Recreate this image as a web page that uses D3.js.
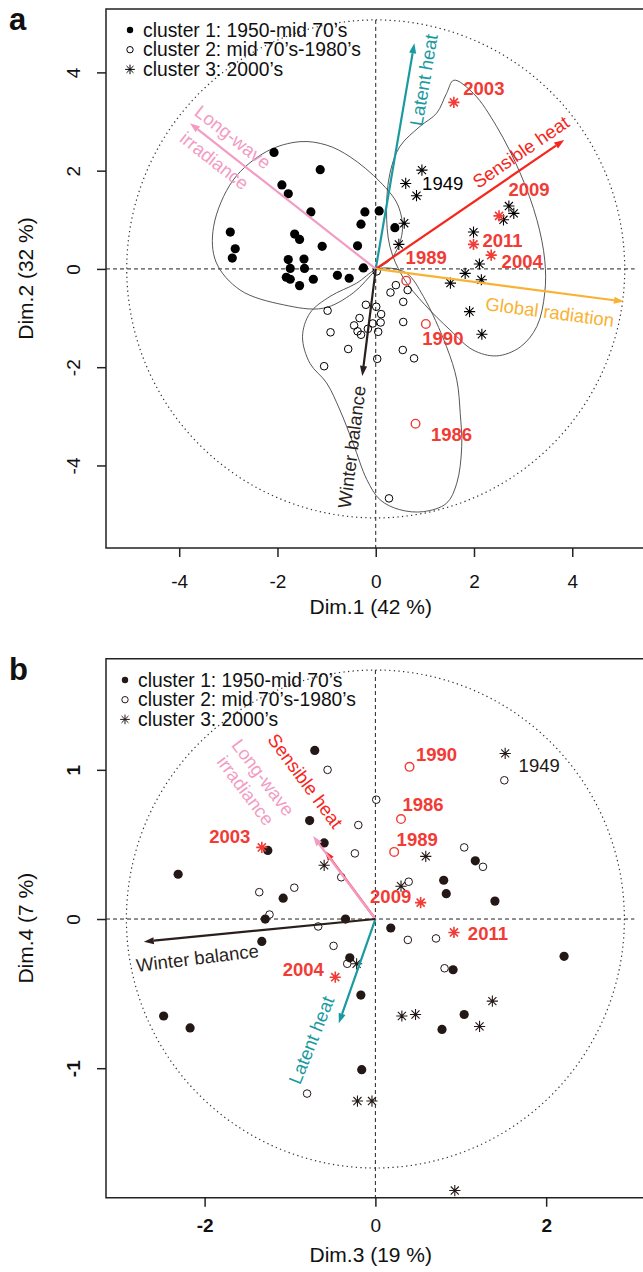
<!DOCTYPE html>
<meta charset="utf-8">
<script src="https://d3js.org/d3.v7.min.js"></script>
<style>
  body { margin: 0; background: #fff; }
  text { font-family: "Liberation Sans", Arial, sans-serif; }
</style>
<div id="chart"></div>
<script>

// ---------- shared ----------
var legendLabels = ["cluster 1: 1950-mid 70\u2019s", "cluster 2: mid 70\u2019s-1980\u2019s", "cluster 3: 2000\u2019s"];
var varNames = ["Latent heat", "Sensible heat", "Global radiation", "Long-wave irradiance", "Winter balance"];

// ---------- panel a : Dim.1 / Dim.2 ----------
var aTicksX = [-4, -2, 0, 2, 4];
var aTicksY = [-4, -2, 0, 2, 4];
var a_cluster1 = [[-2.07,2.37],[-1.13,2.02],[-1.91,1.71],[-1.78,1.53],[-1.32,1.16],[-0.22,1.16],[0.07,1.18],
  [-0.30,0.91],[0.39,0.84],[-2.96,0.75],[-2.86,0.41],[-2.92,0.22],[-1.65,0.71],[-1.55,0.60],[-1.09,0.46],
  [-0.37,0.47],[-1.78,0.19],[-1.46,0.20],[-1.74,0.01],[-1.45,0.01],[-0.25,0.02],[-1.82,-0.17],[-1.74,-0.21],
  [-1.55,-0.34],[-1.27,-0.21],[-0.78,-0.13],[-0.54,-0.19]];
var a_cluster2 = [[0.02,-0.05],[0.41,-0.33],[0.30,-0.48],[0.65,-0.43],[0.56,-0.67],[-0.20,-0.73],[0.01,-0.77],
  [0.11,-0.92],[-0.98,-0.85],[-0.33,-1.00],[-0.44,-1.15],[-0.06,-1.11],[0.10,-1.09],[0.56,-1.08],[-0.37,-1.27],
  [-0.30,-1.34],[-0.16,-1.22],[0.05,-1.28],[-0.92,-1.29],[-0.56,-1.63],[0.55,-1.65],[0.78,-1.82],[0.03,-1.83],
  [-1.05,-1.98],[0.27,-4.67]];
var a_cluster3 = [[0.94,2.01],[0.83,1.49],[0.58,0.93],[0.47,0.50],[2.71,1.28],[2.81,1.13],[2.60,1.00],
  [1.99,0.75],[2.11,0.10],[1.82,-0.09],[2.15,-0.22],[1.52,-0.29],[1.91,-0.87],[2.16,-1.33]];
var a_years = [
  {year: "2003", x: 1.59, y: 3.39, cluster: 3, red: true},
  {year: "2009", x: 2.51, y: 1.08, cluster: 3, red: true},
  {year: "2011", x: 1.99, y: 0.50, cluster: 3, red: true},
  {year: "2004", x: 2.35, y: 0.28, cluster: 3, red: true},
  {year: "1989", x: 0.62, y: -0.24, cluster: 2, red: true},
  {year: "1990", x: 1.02, y: -1.12, cluster: 2, red: true},
  {year: "1986", x: 0.81, y: -3.15, cluster: 2, red: true},
  {year: "1949", x: 0.61, y: 1.74, cluster: 3, red: false}
];
// variable correlations (Latent, Sensible, Global, Long-wave, Winter)
var a_loadX = [0.155, 0.757, 0.997, -0.746, -0.054];
var a_loadY = [0.906, 0.518, -0.131, 0.585, -0.430];
// cluster envelopes
var a_hull1 = [[-1.54,2.59],[-2.22,2.39],[-2.90,1.81],[-3.30,0.86],[-3.25,0.14],[-2.76,-0.43],[-1.88,-0.73],
  [-1.07,-0.80],[-0.46,-0.49],[0.01,-0.02],[0.33,0.22],[0.54,0.75],[0.45,1.30],[0.09,1.77],[-0.52,2.28],[-1.00,2.52]];
var a_hull2 = [[-0.01,-0.02],[-0.39,-0.29],[-0.93,-0.56],[-1.34,-0.90],[-1.49,-1.38],[-1.34,-1.92],[-1.00,-2.32],
  [-0.73,-2.87],[-0.46,-3.55],[-0.18,-4.29],[0.09,-4.70],[0.49,-4.90],[0.97,-4.94],[1.44,-4.77],[1.65,-4.36],
  [1.75,-3.62],[1.72,-2.94],[1.65,-2.26],[1.44,-1.58],[0.97,-0.56],[0.63,-0.09],[0.22,0.02]];
var a_hull3 = [[1.59,3.84],[1.99,3.57],[2.46,2.90],[2.94,1.95],[3.28,1.00],[3.44,0.18],[3.44,-0.49],[3.28,-1.17],
  [2.94,-1.59],[2.46,-1.77],[1.98,-1.65],[1.51,-1.24],[1.00,-0.73],[0.56,-0.18],[0.29,0.45],[0.22,1.20],
  [0.29,1.95],[0.49,2.49],[0.90,2.90],[1.24,3.17],[1.44,3.57]];

// ---------- panel b : Dim.3 / Dim.4 ----------
var bTicksX = [-2, 0, 2];
var bTicksY = [-1, 0, 1];
var b_cluster1 = [[-0.71,1.13],[-0.77,0.66],[-0.60,0.51],[-1.26,0.46],[-2.31,0.30],[-1.08,0.14],[-1.29,0.00],
  [1.17,0.39],[0.80,0.26],[0.83,0.17],[1.40,0.12],[-0.35,0.00],[0.18,-0.06],[-0.30,-0.26],[0.91,-0.34],
  [-0.17,-0.51],[2.21,-0.25],[1.04,-0.64],[0.78,-0.74],[-0.16,-1.01],[-1.33,-0.15],[-2.48,-0.65],[-2.17,-0.73]];
var b_cluster2 = [[-0.56,1.00],[-1.36,0.18],[-0.95,0.21],[-1.24,0.03],[-0.67,-0.05],[-0.20,0.63],[-0.24,0.44],
  [-0.40,0.28],[0.01,0.80],[1.51,0.93],[1.04,0.48],[1.26,0.35],[0.39,0.25],[-0.49,-0.18],[0.38,-0.14],
  [0.71,-0.13],[-0.33,-0.30],[0.81,-0.33],[-0.80,-1.17]];
var b_cluster3 = [[-0.60,0.36],[0.59,0.42],[0.30,0.22],[-0.22,-0.30],[1.37,-0.55],[0.31,-0.65],[0.47,-0.64],
  [1.22,-0.72],[-0.21,-1.22],[-0.04,-1.22],[0.93,-1.82]];
var b_years = [
  {year: "2003", x: -1.33, y: 0.48, cluster: 3, red: true},
  {year: "2009", x: 0.53, y: 0.11, cluster: 3, red: true},
  {year: "2011", x: 0.92, y: -0.09, cluster: 3, red: true},
  {year: "2004", x: -0.47, y: -0.39, cluster: 3, red: true},
  {year: "1990", x: 0.40, y: 1.02, cluster: 2, red: true},
  {year: "1986", x: 0.30, y: 0.67, cluster: 2, red: true},
  {year: "1989", x: 0.22, y: 0.45, cluster: 2, red: true},
  {year: "1949", x: 1.52, y: 1.11, cluster: 3, red: false}
];
// Global radiation is ~0 on Dim.3/Dim.4 and is not drawn
var b_loadX = [-0.147, -0.203, null, -0.250, -0.930];
var b_loadY = [-0.419, 0.274, null, 0.333, -0.091];

// ---------- styles / layout ----------
var varColors = ["#1a9aa0", "#f5261c", "#f9b233", "#f29cc4", "#2a1f1d"];
var RED = "#f23b35";
var R = 249; // radius of the correlation circle, px

var panels = [
  {
    letter: "a", letterY: 30,
    left: 106, right: 643.5, top: 9, bottom: 548,
    xDomain: [-5.49, 5.45], yDomain: [-5.68, 5.29],
    xTicks: aTicksX, yTicks: aTicksY, bold: false,
    xTitle: "Dim.1 (42 %)", yTitle: "Dim.2 (32 %)",
    c1: a_cluster1, c2: a_cluster2, c3: a_cluster3, years: a_years,
    loadX: a_loadX, loadY: a_loadY, hulls: [a_hull1, a_hull2, a_hull3],
    ink: "#000", legendX: 130, legendY: 30,
    xLabY: 40, titleY: 66,
    yearOff: {"2003": [30, -14], "2009": [30, -26], "2011": [29, -4], "2004": [31, 6],
              "1989": [20, -23], "1990": [17, 15], "1986": [36, 11], "1949": [37, 0]},
    // label placement: [dx, dy from origin px, rotation, line gap]
    varLab: [[48, -189, -80.3, 0], [145, -117, -34.4, 0], [174, 43, 7.5, 0], [-152, -120, 38.1, 30], [-24, 178, -82.9, 0]]
  },
  {
    letter: "b", letterY: 680,
    left: 106, right: 643.5, top: 658.7, bottom: 1197.7,
    xDomain: [-3.155, 3.14], yDomain: [-1.868, 1.745],
    xTicks: bTicksX, yTicks: bTicksY, bold: true,
    xTitle: "Dim.3 (19 %)", yTitle: "Dim.4 (7 %)",
    c1: b_cluster1, c2: b_cluster2, c3: b_cluster3, years: b_years,
    loadX: b_loadX, loadY: b_loadY, hulls: [],
    ink: "#231815", legendX: 125, legendY: 680,
    xLabY: 34, titleY: 64,
    yearOff: {"2003": [-32, -11], "2009": [-30, -6], "2011": [34, 1], "2004": [-32, -8],
              "1990": [27, -12], "1986": [22, -15], "1989": [23, -12], "1949": [34, 12]},
    varLab: [[-64, 121, -68, 0], [-70, -138, 53.5, 0], null, [-121, -135, 53, 22], [-178, 39, -7, 0]]
  }
];

var svg = d3.select("#chart").append("svg")
  .attr("width", 643).attr("height", 1272)
  .style("background", "#fff");

function starPath(s) {
  var a = s * 0.72;
  return "M" + (-s) + ",0H" + s + "M0," + (-s) + "V" + s +
    "M" + (-a) + "," + (-a) + "L" + a + "," + a + "M" + (-a) + "," + a + "L" + a + "," + (-a);
}

function drawPanel(p) {
  var g = svg.append("g");
  var x = d3.scaleLinear().domain(p.xDomain).range([p.left, p.right]);
  var y = d3.scaleLinear().domain(p.yDomain).range([p.bottom, p.top]);
  var ox = x(0), oy = y(0);

  // panel letter
  g.append("text").attr("x", 9).attr("y", p.letterY)
    .attr("font-size", 31).attr("font-weight", "bold").attr("fill", "#111").text(p.letter);

  // box
  g.append("path")
    .attr("d", "M" + p.right + "," + p.top + "H" + p.left + "V" + p.bottom + "H" + p.right)
    .attr("fill", "none").attr("stroke", "#222").attr("stroke-width", 1.5);

  // axes
  var fmt = function (d) { return String(d); };
  g.append("g").attr("transform", "translate(0," + p.bottom + ")")
    .call(d3.axisBottom(x).tickValues(p.xTicks).tickSize(9).tickFormat(fmt))
    .call(function (ax) {
      ax.select(".domain").remove();
      ax.selectAll("line").attr("stroke", "#222").attr("stroke-width", 1.5);
      ax.selectAll("text").attr("y", p.xLabY).attr("dy", null)
        .attr("font-size", 19).attr("fill", "#111")
        .attr("font-weight", function (d) { return p.bold && d !== 0 ? "bold" : "normal"; });
    });
  g.append("g").attr("transform", "translate(" + p.left + ",0)")
    .call(d3.axisLeft(y).tickValues(p.yTicks).tickSize(9).tickFormat(fmt))
    .call(function (ax) {
      ax.select(".domain").remove();
      ax.selectAll("line").attr("stroke", "#222").attr("stroke-width", 1.5);
      ax.selectAll("text").attr("x", 0).attr("y", -26).attr("dy", null)
        .attr("transform", "rotate(-90)").attr("text-anchor", "middle")
        .attr("font-size", 19).attr("fill", "#111")
        .attr("font-weight", function (d) { return p.bold && d !== 0 ? "bold" : "normal"; });
    });

  // axis titles
  g.append("text").attr("x", (p.left + p.right) / 2 - 4).attr("y", p.bottom + p.titleY)
    .attr("text-anchor", "middle").attr("font-size", 21).attr("fill", "#111").text(p.xTitle);
  g.append("text")
    .attr("transform", "translate(" + (p.left - 73) + "," + ((p.top + p.bottom) / 2) + ") rotate(-90)")
    .attr("text-anchor", "middle").attr("font-size", 21).attr("fill", "#111").text(p.yTitle);

  // reference lines and correlation circle
  g.append("line").attr("x1", p.left).attr("x2", ox + R * 1.04).attr("y1", oy).attr("y2", oy)
    .attr("stroke", "#222").attr("stroke-dasharray", "4,3");
  g.append("line").attr("x1", ox).attr("x2", ox).attr("y1", oy - R).attr("y2", p.bottom)
    .attr("stroke", "#222").attr("stroke-dasharray", "4,3");
  g.append("circle").attr("cx", ox).attr("cy", oy).attr("r", R)
    .attr("fill", "none").attr("stroke", "#333").attr("stroke-width", 1.2).attr("stroke-dasharray", "1.3,3.3");

  // cluster envelopes
  var hullLine = d3.line().x(function (d) { return x(d[0]); }).y(function (d) { return y(d[1]); })
    .curve(d3.curveCatmullRomClosed.alpha(0.5));
  g.selectAll(".hull").data(p.hulls).join("path")
    .attr("d", hullLine).attr("fill", "none").attr("stroke", "#444").attr("stroke-width", 0.9);

  // points
  g.selectAll(".c1").data(p.c1).join("circle")
    .attr("cx", function (d) { return x(d[0]); }).attr("cy", function (d) { return y(d[1]); })
    .attr("r", 4.6).attr("fill", p.ink);
  g.selectAll(".c2").data(p.c2).join("circle")
    .attr("cx", function (d) { return x(d[0]); }).attr("cy", function (d) { return y(d[1]); })
    .attr("r", 3.8).attr("fill", "none").attr("stroke", p.ink).attr("stroke-width", 1);
  g.selectAll(".c3").data(p.c3).join("path")
    .attr("transform", function (d) { return "translate(" + x(d[0]) + "," + y(d[1]) + ")"; })
    .attr("d", starPath(5.6)).attr("stroke", p.ink).attr("stroke-width", 1.1).attr("fill", "none");

  // labelled years
  p.years.forEach(function (d) {
    var px = x(d.x), py = y(d.y), col = d.red ? RED : p.ink;
    if (d.cluster === 3) {
      g.append("path").attr("transform", "translate(" + px + "," + py + ")")
        .attr("d", starPath(5.6)).attr("stroke", col).attr("stroke-width", d.red ? 1.6 : 1.1).attr("fill", "none");
    } else {
      g.append("circle").attr("cx", px).attr("cy", py).attr("r", 4.3)
        .attr("fill", "none").attr("stroke", col).attr("stroke-width", 1.4);
    }
    var off = p.yearOff[d.year];
    g.append("text").attr("x", px + off[0]).attr("y", py + off[1])
      .attr("text-anchor", "middle").attr("dominant-baseline", "central")
      .attr("font-size", 18.5).attr("font-weight", d.red ? "bold" : "normal")
      .attr("fill", col).text(d.year);
  });

  // variable arrows
  varNames.forEach(function (name, i) {
    if (p.loadX[i] === null) return;
    var tx = ox + p.loadX[i] * R, ty = oy - p.loadY[i] * R;
    var col = varColors[i];
    var ang = Math.atan2(ty - oy, tx - ox);
    var hl = 10, hw = 3.6;
    var bx = tx - hl * Math.cos(ang), by = ty - hl * Math.sin(ang);
    g.append("line").attr("x1", ox).attr("y1", oy).attr("x2", bx).attr("y2", by)
      .attr("stroke", col).attr("stroke-width", 2.2);
    g.append("path")
      .attr("d", "M" + tx + "," + ty +
        "L" + (bx + hw * Math.sin(ang)) + "," + (by - hw * Math.cos(ang)) +
        "L" + (bx - hw * Math.sin(ang)) + "," + (by + hw * Math.cos(ang)) + "Z")
      .attr("fill", col);

    var lab = p.varLab[i];
    var lines = lab[3] > 0 ? ["Long-wave", "irradiance"] : [name];
    var t = g.append("g")
      .attr("transform", "translate(" + (ox + lab[0]) + "," + (oy + lab[1]) + ") rotate(" + lab[2] + ")");
    lines.forEach(function (s, k) {
      t.append("text").attr("x", 0)
        .attr("y", lines.length > 1 ? (k - 0.5) * lab[3] : 0)
        .attr("text-anchor", "middle").attr("dominant-baseline", "central")
        .attr("font-size", 18.5).attr("fill", col).text(s);
    });
  });

  // legend
  legendLabels.forEach(function (s, k) {
    var ly = p.legendY + k * 19.7;
    if (k === 0) g.append("circle").attr("cx", p.legendX).attr("cy", ly).attr("r", 3.2).attr("fill", p.ink);
    if (k === 1) g.append("circle").attr("cx", p.legendX).attr("cy", ly).attr("r", 3.2)
      .attr("fill", "none").attr("stroke", p.ink).attr("stroke-width", 1);
    if (k === 2) g.append("path").attr("transform", "translate(" + p.legendX + "," + ly + ")")
      .attr("d", starPath(4.8)).attr("stroke", p.ink).attr("stroke-width", 1).attr("fill", "none");
    g.append("text").attr("x", p.legendX + 13).attr("y", ly)
      .attr("dominant-baseline", "central").attr("font-size", 19.3).attr("fill", "#111").text(s);
  });
}

panels.forEach(drawPanel);

</script>
